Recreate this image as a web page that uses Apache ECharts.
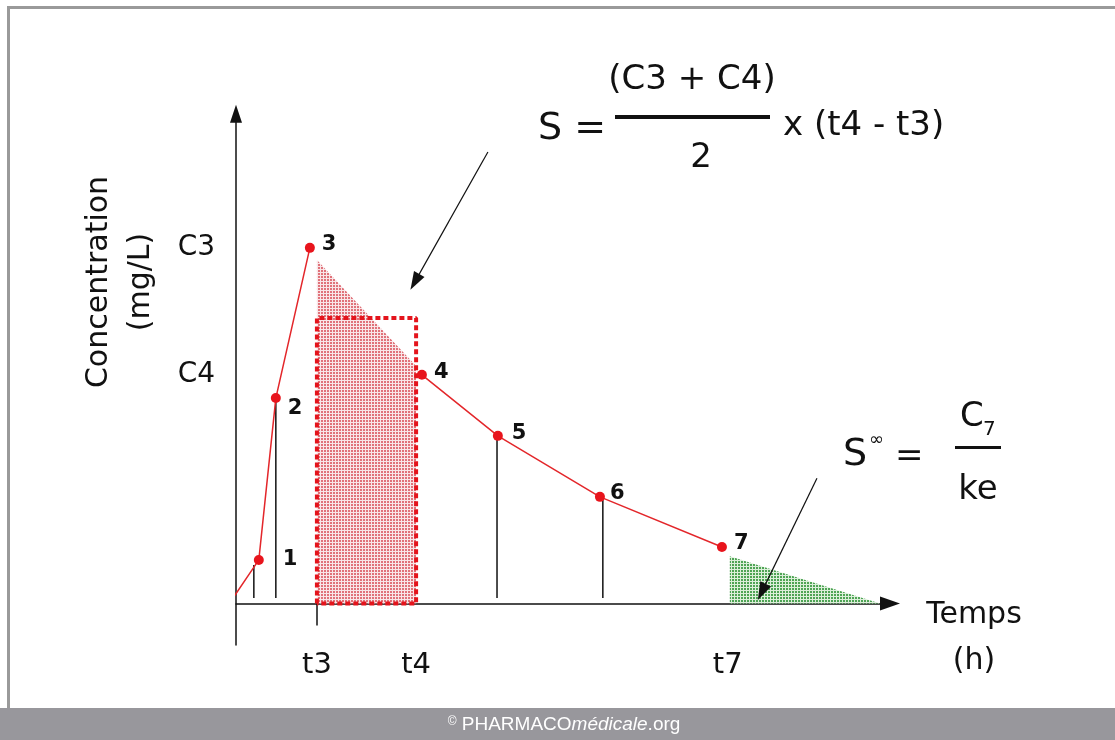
<!DOCTYPE html>
<html lang="fr">
<head>
<meta charset="UTF-8">
<title>Aire sous la courbe</title>
<script src="https://cdn.jsdelivr.net/npm/echarts@6/dist/echarts.min.js"></script>
<style>
  * { padding: 0; margin: 0; }
  html, body { width: 100%; height: 100%; background: #fff; }
  #auc { width: 1115px; height: 740px; }
</style>
</head>
<body>
<div id="auc"></div>
<script>
// courbe concentration / temps
const pointNames = ['1', '2', '3', '4', '5', '6', '7'];
const times = [0.55, 0.96, 1.78, 4.48, 6.31, 8.77, 11.71];
const conc = [1.05, 4.95, 8.57, 5.51, 4.04, 2.57, 1.36];
const origin = [-0.08, 0.12];
// le segment 3 -> 4 n'est pas tracé (bord du trapèze)
const peakIndex = 2;
// repères des axes
const tTicks = [1.95, 4.34, 11.85];
const tLabels = ['t3', 't4', 't7'];
const cTicks = [5.51, 8.57];
const cLabels = ['C4', 'C3'];
// traits verticaux
const dropX = [0.43, 0.96, 6.29, 8.84];
const dropTop = [0.93, 4.95, 4.04, 2.57];
const dropBase = 0.13;
// trapèze entre t3 et t4 et rectangle moyen
const trapT = [1.95, 4.34];
const trapC = [8.28, 5.72];
const rectC = 6.88;
// aire résiduelle après t7
const tailT = [11.9, 15.52];
const tailC = [1.14, 0];
// flèches (début, fin)
const arrowFrom = [[6.07, 10.88], [14.0, 3.02]];
const arrowTo = [[4.31, 7.75], [12.67, 0.28]];

// décalages des numéros de points (px)
const labelNudge = [[12, 0], [0, 10], [0, -3], [0, -2], [2, -2], [-2, -3], [0, -4]];

const FONT = 'DejaVu Sans';

function stipple(bg, dot) {
    const c = document.createElement('canvas');
    c.width = 3;
    c.height = 3;
    const g = c.getContext('2d');
    g.fillStyle = bg;
    g.fillRect(0, 0, 3, 3);
    g.fillStyle = dot;
    g.fillRect(0, 0, 2, 2);
    return c;
}

function pointItem(i) {
    return { value: [times[i], conc[i]], name: pointNames[i], label: { offset: labelNudge[i] } };
}

const rising = [{ value: origin, symbol: 'none', label: { show: false } }];
const falling = [];
times.forEach((t, i) => {
    if (i <= peakIndex) rising.push(pointItem(i));
    else falling.push(pointItem(i));
});

const rect = [[trapT[0], 0], [trapT[0], rectC], [trapT[1], rectC], [trapT[1], 0], [trapT[0], 0]];

const curveStyle = {
    type: 'line',
    clip: false,
    symbol: 'circle',
    symbolSize: 10,
    itemStyle: { color: '#e8141c' },
    lineStyle: { color: '#e3262a', width: 1.5 },
    label: {
        show: true,
        position: 'right',
        distance: 7,
        formatter: p => p.name,
        color: '#111',
        fontFamily: FONT,
        fontSize: 21,
        fontWeight: 'bold'
    },
    z: 5
};

const myChart = echarts.init(document.getElementById('auc'));

const option = {
    animation: false,
    grid: { left: 236, right: 225, top: 113.8, bottom: 95 },
    xAxis: {
        type: 'value',
        min: 0,
        max: 15.76,
        splitLine: { show: false },
        axisLine: {
            onZero: true,
            symbol: ['none', 'triangle'],
            symbolSize: [14, 20],
            lineStyle: { color: '#111', width: 1.5 }
        },
        axisTick: {
            show: true,
            customValues: [tTicks[0]],
            length: 22,
            lineStyle: { color: '#111', width: 1.5 }
        },
        axisLabel: {
            customValues: tTicks,
            formatter: v => tLabels[tTicks.indexOf(v)] || '',
            margin: 6,
            color: '#111',
            fontFamily: FONT,
            fontSize: 29
        }
    },
    yAxis: {
        type: 'value',
        min: -1,
        max: 11.8,
        splitLine: { show: false },
        axisLine: {
            onZero: true,
            symbol: ['none', 'triangle'],
            symbolSize: [12, 18],
            lineStyle: { color: '#111', width: 1.5 }
        },
        axisTick: { show: false },
        axisLabel: {
            customValues: cTicks,
            formatter: v => cLabels[cTicks.indexOf(v)] || '',
            margin: 21,
            color: '#111',
            fontFamily: FONT,
            fontSize: 28
        }
    },
    series: [
        {
            type: 'line',
            data: trapT.map((t, i) => [t, trapC[i]]),
            symbol: 'none',
            lineStyle: { width: 0 },
            areaStyle: { color: { image: stipple('#f9e6e8', '#e0727a'), repeat: 'repeat' }, opacity: 1 },
            z: 1
        },
        {
            type: 'line',
            data: tailT.map((t, i) => [t, tailC[i]]),
            symbol: 'none',
            lineStyle: { width: 0 },
            areaStyle: { color: { image: stipple('#dcefda', '#4fa455'), repeat: 'repeat' }, opacity: 1 },
            z: 1
        },
        {
            type: 'line',
            data: rect,
            symbol: 'none',
            lineStyle: { color: '#e4141c', width: 4, type: [5, 3] },
            z: 2
        },
        {
            type: 'custom',
            data: dropX.map((x, i) => [x, dropTop[i]]),
            renderItem: (params, api) => {
                const p1 = api.coord([api.value(0), api.value(1)]);
                const p0 = api.coord([api.value(0), dropBase]);
                return {
                    type: 'line',
                    shape: { x1: p0[0], y1: p0[1], x2: p1[0], y2: p1[1] },
                    style: { stroke: '#111', lineWidth: 1.5 }
                };
            },
            z: 2
        },
        Object.assign({ data: rising }, curveStyle),
        Object.assign({ data: falling }, curveStyle),
        {
            type: 'line',
            data: [],
            markLine: {
                silent: true,
                symbol: ['none', 'triangle'],
                symbolSize: [12, 18],
                label: { show: false },
                lineStyle: { color: '#111', width: 1.2, type: 'solid' },
                data: arrowFrom.map((a, i) => [{ coord: a }, { coord: arrowTo[i] }])
            }
        }
    ],
    graphic: [
        // cadre
        { type: 'rect', shape: { x: 7, y: 6, width: 1108, height: 3 }, style: { fill: '#9a9a9a' } },
        { type: 'rect', shape: { x: 7, y: 6, width: 3, height: 702 }, style: { fill: '#9a9a9a' } },
        { type: 'rect', shape: { x: 0, y: 708, width: 1115, height: 32 }, style: { fill: '#98979c' } },
        {
            type: 'text', x: 564, y: 725,
            style: {
                text: '{c|©} PHARMACO{i|médicale}.org',
                align: 'center', verticalAlign: 'middle',
                fill: '#fff', fontFamily: 'Liberation Sans', fontSize: 19,
                rich: {
                    c: { fontSize: 12, verticalAlign: 'top', fill: '#fff', fontFamily: 'Liberation Sans', padding: [0, 0, 7, 0] },
                    i: { fontStyle: 'italic', fontSize: 19, fill: '#fff', fontFamily: 'Liberation Sans' }
                }
            }
        },
        // titres des axes
        {
            type: 'text', x: 120, y: 282, rotation: Math.PI / 2,
            style: {
                text: 'Concentration\n(mg/L)', align: 'center', verticalAlign: 'middle',
                fill: '#111', fontFamily: FONT, fontSize: 30, lineHeight: 42
            }
        },
        {
            type: 'text', x: 974, y: 638,
            style: {
                text: 'Temps\n(h)', align: 'center', verticalAlign: 'middle',
                fill: '#111', fontFamily: FONT, fontSize: 30, lineHeight: 46
            }
        },
        // formule S
        { type: 'text', x: 538, y: 129, style: { text: 'S =', align: 'left', verticalAlign: 'middle', fill: '#111', fontFamily: FONT, fontSize: 38 } },
        { type: 'text', x: 692, y: 80, style: { text: '(C3 + C4)', align: 'center', verticalAlign: 'middle', fill: '#111', fontFamily: FONT, fontSize: 34 } },
        { type: 'rect', shape: { x: 615, y: 115, width: 155, height: 4 }, style: { fill: '#111' } },
        { type: 'text', x: 701, y: 158, style: { text: '2', align: 'center', verticalAlign: 'middle', fill: '#111', fontFamily: FONT, fontSize: 34 } },
        { type: 'text', x: 783, y: 126, style: { text: 'x (t4 - t3)', align: 'left', verticalAlign: 'middle', fill: '#111', fontFamily: FONT, fontSize: 34 } },
        // formule S infini
        { type: 'text', x: 843, y: 455, style: { text: 'S', align: 'left', verticalAlign: 'middle', fill: '#111', fontFamily: FONT, fontSize: 38 } },
        { type: 'text', x: 869, y: 440, style: { text: '∞', align: 'left', verticalAlign: 'middle', fill: '#111', fontFamily: FONT, fontSize: 18 } },
        { type: 'text', x: 895, y: 457, style: { text: '=', align: 'left', verticalAlign: 'middle', fill: '#111', fontFamily: FONT, fontSize: 34 } },
        { type: 'text', x: 960, y: 417, style: { text: 'C', align: 'left', verticalAlign: 'middle', fill: '#111', fontFamily: FONT, fontSize: 34 } },
        { type: 'text', x: 983, y: 430, style: { text: '7', align: 'left', verticalAlign: 'middle', fill: '#111', fontFamily: FONT, fontSize: 20 } },
        { type: 'rect', shape: { x: 955, y: 446, width: 46, height: 3 }, style: { fill: '#111' } },
        { type: 'text', x: 978, y: 490, style: { text: 'ke', align: 'center', verticalAlign: 'middle', fill: '#111', fontFamily: FONT, fontSize: 34 } }
    ]
};

myChart.setOption(option);
</script>
</body>
</html>
